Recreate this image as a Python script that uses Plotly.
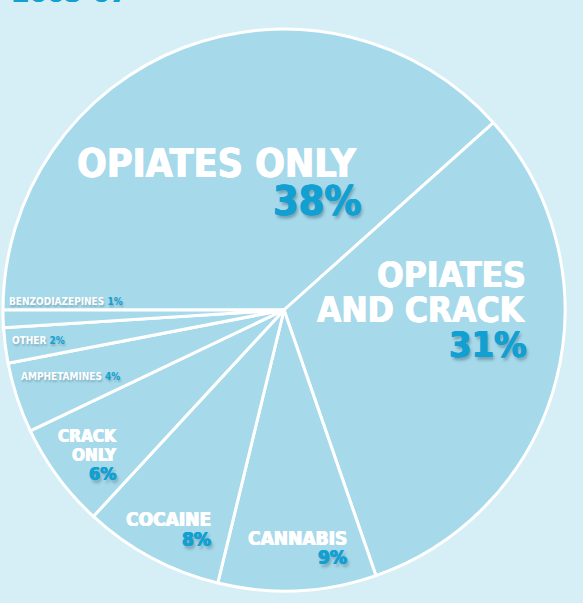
import plotly.graph_objects as go

# Drug groups in treatment, share of total (%)
categories = ["OPIATES ONLY", "OPIATES AND CRACK", "CANNABIS", "COCAINE",
              "CRACK ONLY", "AMPHETAMINES", "OTHER", "BENZODIAZEPINES"]
shares = [38, 31, 9, 8, 6, 4, 2, 1]

W, H = 583, 603
BG = "#d6eef6"
SLICE = "#a6d9ea"
BLUE = "#129fd2"
WHITE = "#ffffff"
FONT = "DejaVu Sans Condensed, sans-serif"


def heavy(color, drop=False):
    # thicken the strokes with thin side shadows; optional soft drop shadow
    parts = [f"0.6px 0 0 {color}", f"-0.6px 0 0 {color}"]
    if drop:
        parts.append("2px 3px 3px rgba(20,60,80,0.35)")
    return ", ".join(parts)


fig = go.Figure(go.Pie(
    labels=categories,
    values=shares,
    sort=False,
    direction="clockwise",
    rotation=270,
    textinfo="none",
    hoverinfo="label+value",
    marker=dict(colors=[SLICE] * len(categories), line=dict(color=WHITE, width=3)),
    domain=dict(x=[3 / W, 565 / W], y=[12 / H, 574 / H]),
    showlegend=False,
))


def px(x, y):
    return x / W, 1 - y / H


annotations = []


def label(text, x, y, size, color, anchor="right", drop=False):
    ax, ay = px(x, y)
    annotations.append(dict(
        text=text, x=ax, y=ay, xref="paper", yref="paper",
        xanchor=anchor, yanchor="middle", align=anchor,
        showarrow=False,
        font=dict(family=FONT, size=size, color=color, weight="bold",
                  shadow=heavy(color, drop)),
    ))


pct = {c: f"{v}%" for c, v in zip(categories, shares)}

# large slices, one annotation per line for tight leading
label("OPIATES ONLY", 359, 163, 39, WHITE)
label(pct["OPIATES ONLY"], 363, 201, 41, BLUE, drop=True)
label("OPIATES", 528, 275, 35, WHITE)
label("AND CRACK", 528, 310, 35, WHITE)
label(pct["OPIATES AND CRACK"], 529, 344, 36, BLUE, drop=True)

# medium slices
label("CRACK", 119, 436, 17, WHITE)
label("ONLY", 119, 455, 17, WHITE)
label(pct["CRACK ONLY"], 119, 473, 18, BLUE, drop=True)
label("COCAINE", 213, 519, 19, WHITE)
label(pct["COCAINE"], 213, 539, 19, BLUE, drop=True)
label("CANNABIS", 349, 538, 19, WHITE)
label(pct["CANNABIS"], 349, 557, 19, BLUE, drop=True)

# thin slices: name and share on one line
for name, x, y in [("BENZODIAZEPINES", 7, 301), ("OTHER", 10, 340), ("AMPHETAMINES", 19, 376)]:
    ax, ay = px(x, y)
    annotations.append(dict(
        text=f"{name} <span style='color:{BLUE}'>{pct[name]}</span>",
        x=ax, y=ay, xref="paper", yref="paper", xanchor="left", yanchor="middle",
        showarrow=False,
        font=dict(family=FONT, size=10, color=WHITE, weight="bold",
                  shadow="1px 2px 2px rgba(20,60,80,0.25)"),
    ))

# period heading, running off the top edge
ax, ay = px(10, -7.5)
annotations.append(dict(
    text="2005-07", x=ax, y=ay, xref="paper", yref="paper", xanchor="left", yanchor="middle",
    showarrow=False,
    font=dict(family=FONT, size=28, color=BLUE, weight="bold", shadow=heavy(BLUE)),
))

fig.update_layout(
    width=W, height=H,
    margin=dict(l=0, r=0, t=0, b=0),
    paper_bgcolor=BG, plot_bgcolor=BG,
    annotations=annotations,
)

fig.write_html("out.html")
